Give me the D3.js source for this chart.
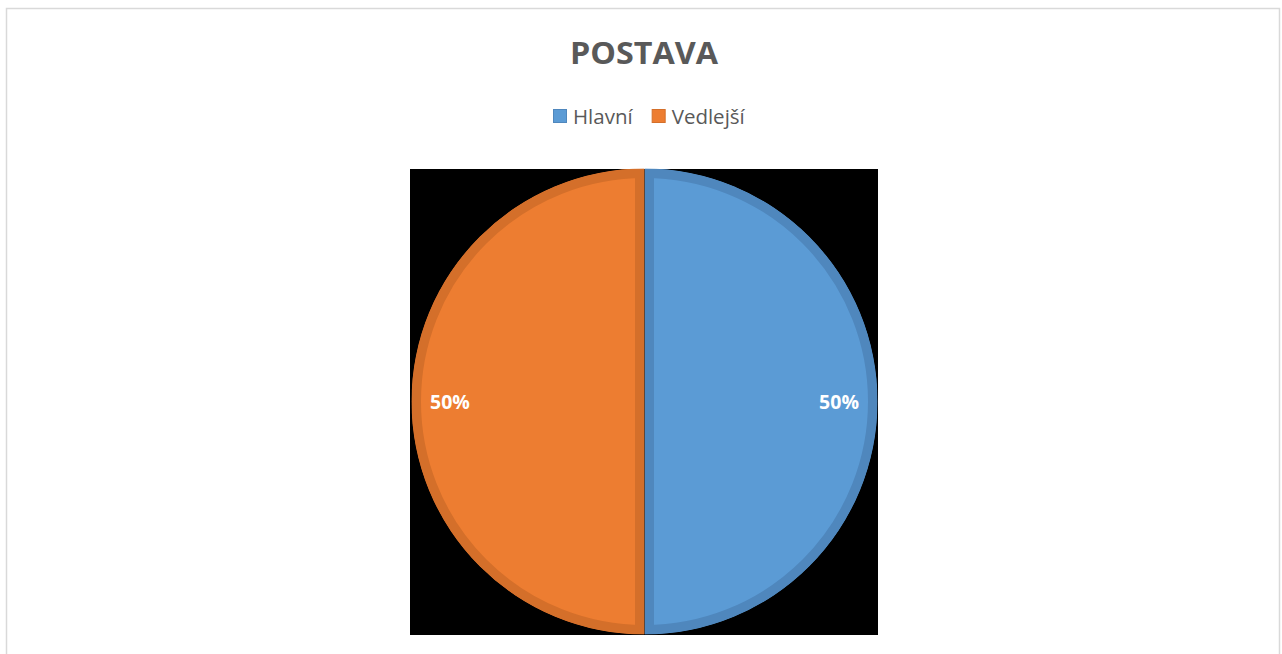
<!DOCTYPE html>
<html>
<head>
<meta charset="utf-8">
<script src="https://cdn.jsdelivr.net/npm/d3@7"></script>
<style>
  html, body { margin: 0; padding: 0; background: #fff; }
  svg { display: block; }
</style>
</head>
<body>
<svg id="chart" width="1282" height="654"></svg>
<script>
// Share of main vs. secondary characters
const categories = ["Hlavní", "Vedlejší"];
const values = [50, 50];
const fills = ["#5B9BD5", "#ED7D31"];
const edges = ["#4F87BD", "#D46F2A"];
const titleText = "POSTAVA";

const svg = d3.select("#chart");
const font = "'Open Sans', 'Noto Sans', sans-serif";

// chart area frame
svg.append("rect")
  .attr("x", 6.5).attr("y", 8.5)
  .attr("width", 1273).attr("height", 700)
  .attr("fill", "#fff").attr("stroke", "#D9D9D9").attr("stroke-width", 1.5);

// title
svg.append("text")
  .attr("x", 644).attr("y", 64)
  .attr("text-anchor", "middle")
  .attr("font-family", font).attr("font-weight", 700)
  .attr("font-size", 31).attr("fill", "#595959")
  .attr("textLength", 148).attr("lengthAdjust", "spacingAndGlyphs")
  .text(titleText);

// legend, laid out left to right then centred
const legend = svg.append("g").attr("font-family", font).attr("font-size", 20.5).attr("fill", "#595959");
let lx = 0;
categories.forEach((c, i) => {
  const item = legend.append("g").attr("transform", `translate(${lx},0)`);
  item.append("rect").attr("x", 0.5).attr("y", 109.5).attr("width", 13).attr("height", 13)
    .attr("fill", fills[i]).attr("stroke", edges[i]).attr("stroke-width", 1);
  const t = item.append("text").attr("x", 20).attr("y", 123.5).text(c);
  const w = t.node().getComputedTextLength();
  lx += 20 + w + (i < categories.length - 1 ? 19 : 0);
});
legend.attr("transform", `translate(${Math.round(648.5 - lx / 2)},0)`);

// plot area background
const plot = { x: 410, y: 169, w: 468, h: 466 };
svg.append("rect")
  .attr("x", plot.x).attr("y", plot.y).attr("width", plot.w).attr("height", plot.h)
  .attr("fill", "#000");

const cx = 644.5, cy = 401.5, r = 233;

// first slice starts at 12 o'clock, going clockwise
const pie = d3.pie().sort(null).value(d => d)
  .startAngle(0).endAngle(2 * Math.PI);
const arcs = pie(values);
const arc = d3.arc().innerRadius(0).outerRadius(r);
const labelArc = d3.arc().innerRadius(r * 0.835).outerRadius(r * 0.835);

const g = svg.append("g").attr("transform", `translate(${cx},${cy})`);
const defs = svg.append("defs");

arcs.forEach((a, i) => {
  const id = "clip" + i;
  defs.append("clipPath").attr("id", id).append("path").attr("d", arc(a));
  g.append("path")
    .attr("d", arc(a))
    .attr("fill", fills[i])
    .attr("stroke", edges[i])
    .attr("stroke-width", 19)
    .attr("stroke-linejoin", "miter")
    .attr("clip-path", `url(#${id})`);
});

const total = d3.sum(values);
arcs.forEach((a, i) => {
  const [x, y] = labelArc.centroid(a);
  g.append("text")
    .attr("x", x).attr("y", y)
    .attr("dy", "0.36em")
    .attr("text-anchor", "middle")
    .attr("font-family", font).attr("font-weight", 700)
    .attr("font-size", 19.5).attr("fill", "#fff")
    .text(Math.round(values[i] / total * 100) + "%");
});
</script>
</body>
</html>
